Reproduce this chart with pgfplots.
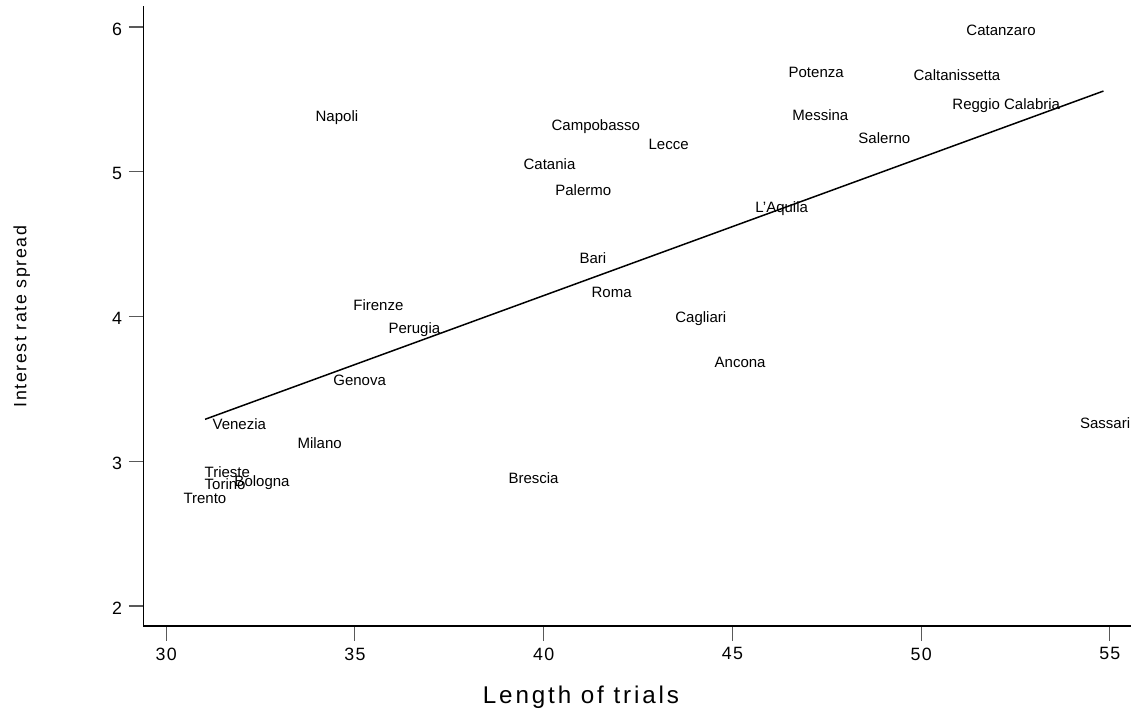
\documentclass[border=0pt]{standalone}
\usepackage{pgfplots}
\pgfplotsset{compat=1.18}
\usepackage{fontspec}
\setmainfont{Liberation Sans}
\newfontfamily\tickfont[LetterSpace=7]{Liberation Sans}
\newfontfamily\ytitlefont[LetterSpace=9]{Liberation Sans}
\newfontfamily\xtitlefont[LetterSpace=11.9]{Liberation Sans}

\pgfplotstableread[col sep=comma, row sep=\\]{
x,y,label\\
51.19,5.974,Catanzaro\\
46.48,5.687,Potenza\\
49.79,5.666,Caltanissetta\\
46.58,5.390,Messina\\
50.82,5.454,Reggio Calabria\\
48.33,5.233,Salerno\\
45.60,4.745,L'Aquila\\
33.95,5.376,Napoli\\
40.20,5.311,Campobasso\\
42.77,5.190,Lecce\\
39.46,5.054,Catania\\
40.30,4.874,Palermo\\
40.94,4.402,Bari\\
41.26,4.164,Roma\\
34.95,4.079,Firenze\\
35.88,3.912,Perugia\\
34.42,3.561,Genova\\
43.48,3.985,Cagliari\\
44.52,3.684,Ancona\\
39.06,2.882,Brescia\\
31.22,3.257,Venezia\\
33.47,3.124,Milano\\
31.01,2.926,Trieste\\
31.01,2.841,Torino\\
31.80,2.855,Bologna\\
30.45,2.746,Trento\\
54.20,3.267,Sassari\\
}\cities

\begin{document}
\begin{tikzpicture}[x=1pt,y=1pt]
\useasboundingbox (-71.75,-43.5) rectangle (494.75,313);
\begin{axis}[
  at={(0,0)}, anchor=south west,
  scale only axis, width=493.75pt, height=310.25pt,
  xmin=29.40, xmax=55.56, ymin=1.862, ymax=6.149,
  axis x line*=bottom, axis y line*=left,
  axis line style={black, line width=0.6pt},
  xtick={30,35,40,45,50,55}, ytick={2,3,4,5,6},
  tick align=outside, major tick length=7.25pt,
  major tick style={gray!70!black, line width=0.6pt},
  minor tick num=0,
  /pgf/number format/assume math mode=true,
  ticklabel style={font=\tickfont\fontsize{8.9}{8.9}\selectfont},
  yticklabel style={yshift=-1pt},
  xlabel={Length of trials},
  ylabel={Interest rate spread},
  xlabel style={font=\xtitlefont\fontsize{12.1}{12.1}\selectfont, at={(axis description cs:0.443,0)}, anchor=center, yshift=-35.5pt},
  ylabel style={font=\ytitlefont\fontsize{8.9}{8.9}\selectfont, at={(axis description cs:0,0.4985)}, anchor=center, yshift=60.9pt},
  clip=false,
]
\addplot[draw=none, mark=none, nodes near coords, point meta=explicit symbolic,
  nodes near coords style={anchor=west, inner sep=0pt, font=\fontsize{7.5}{7.5}\selectfont, text=black}]
  table[x=x, y=y, meta=label] {\cities};
\addplot[black, line width=0.75pt, mark=none] coordinates {(31.03,3.290) (54.83,5.558)};
\end{axis}
\end{tikzpicture}
\end{document}
